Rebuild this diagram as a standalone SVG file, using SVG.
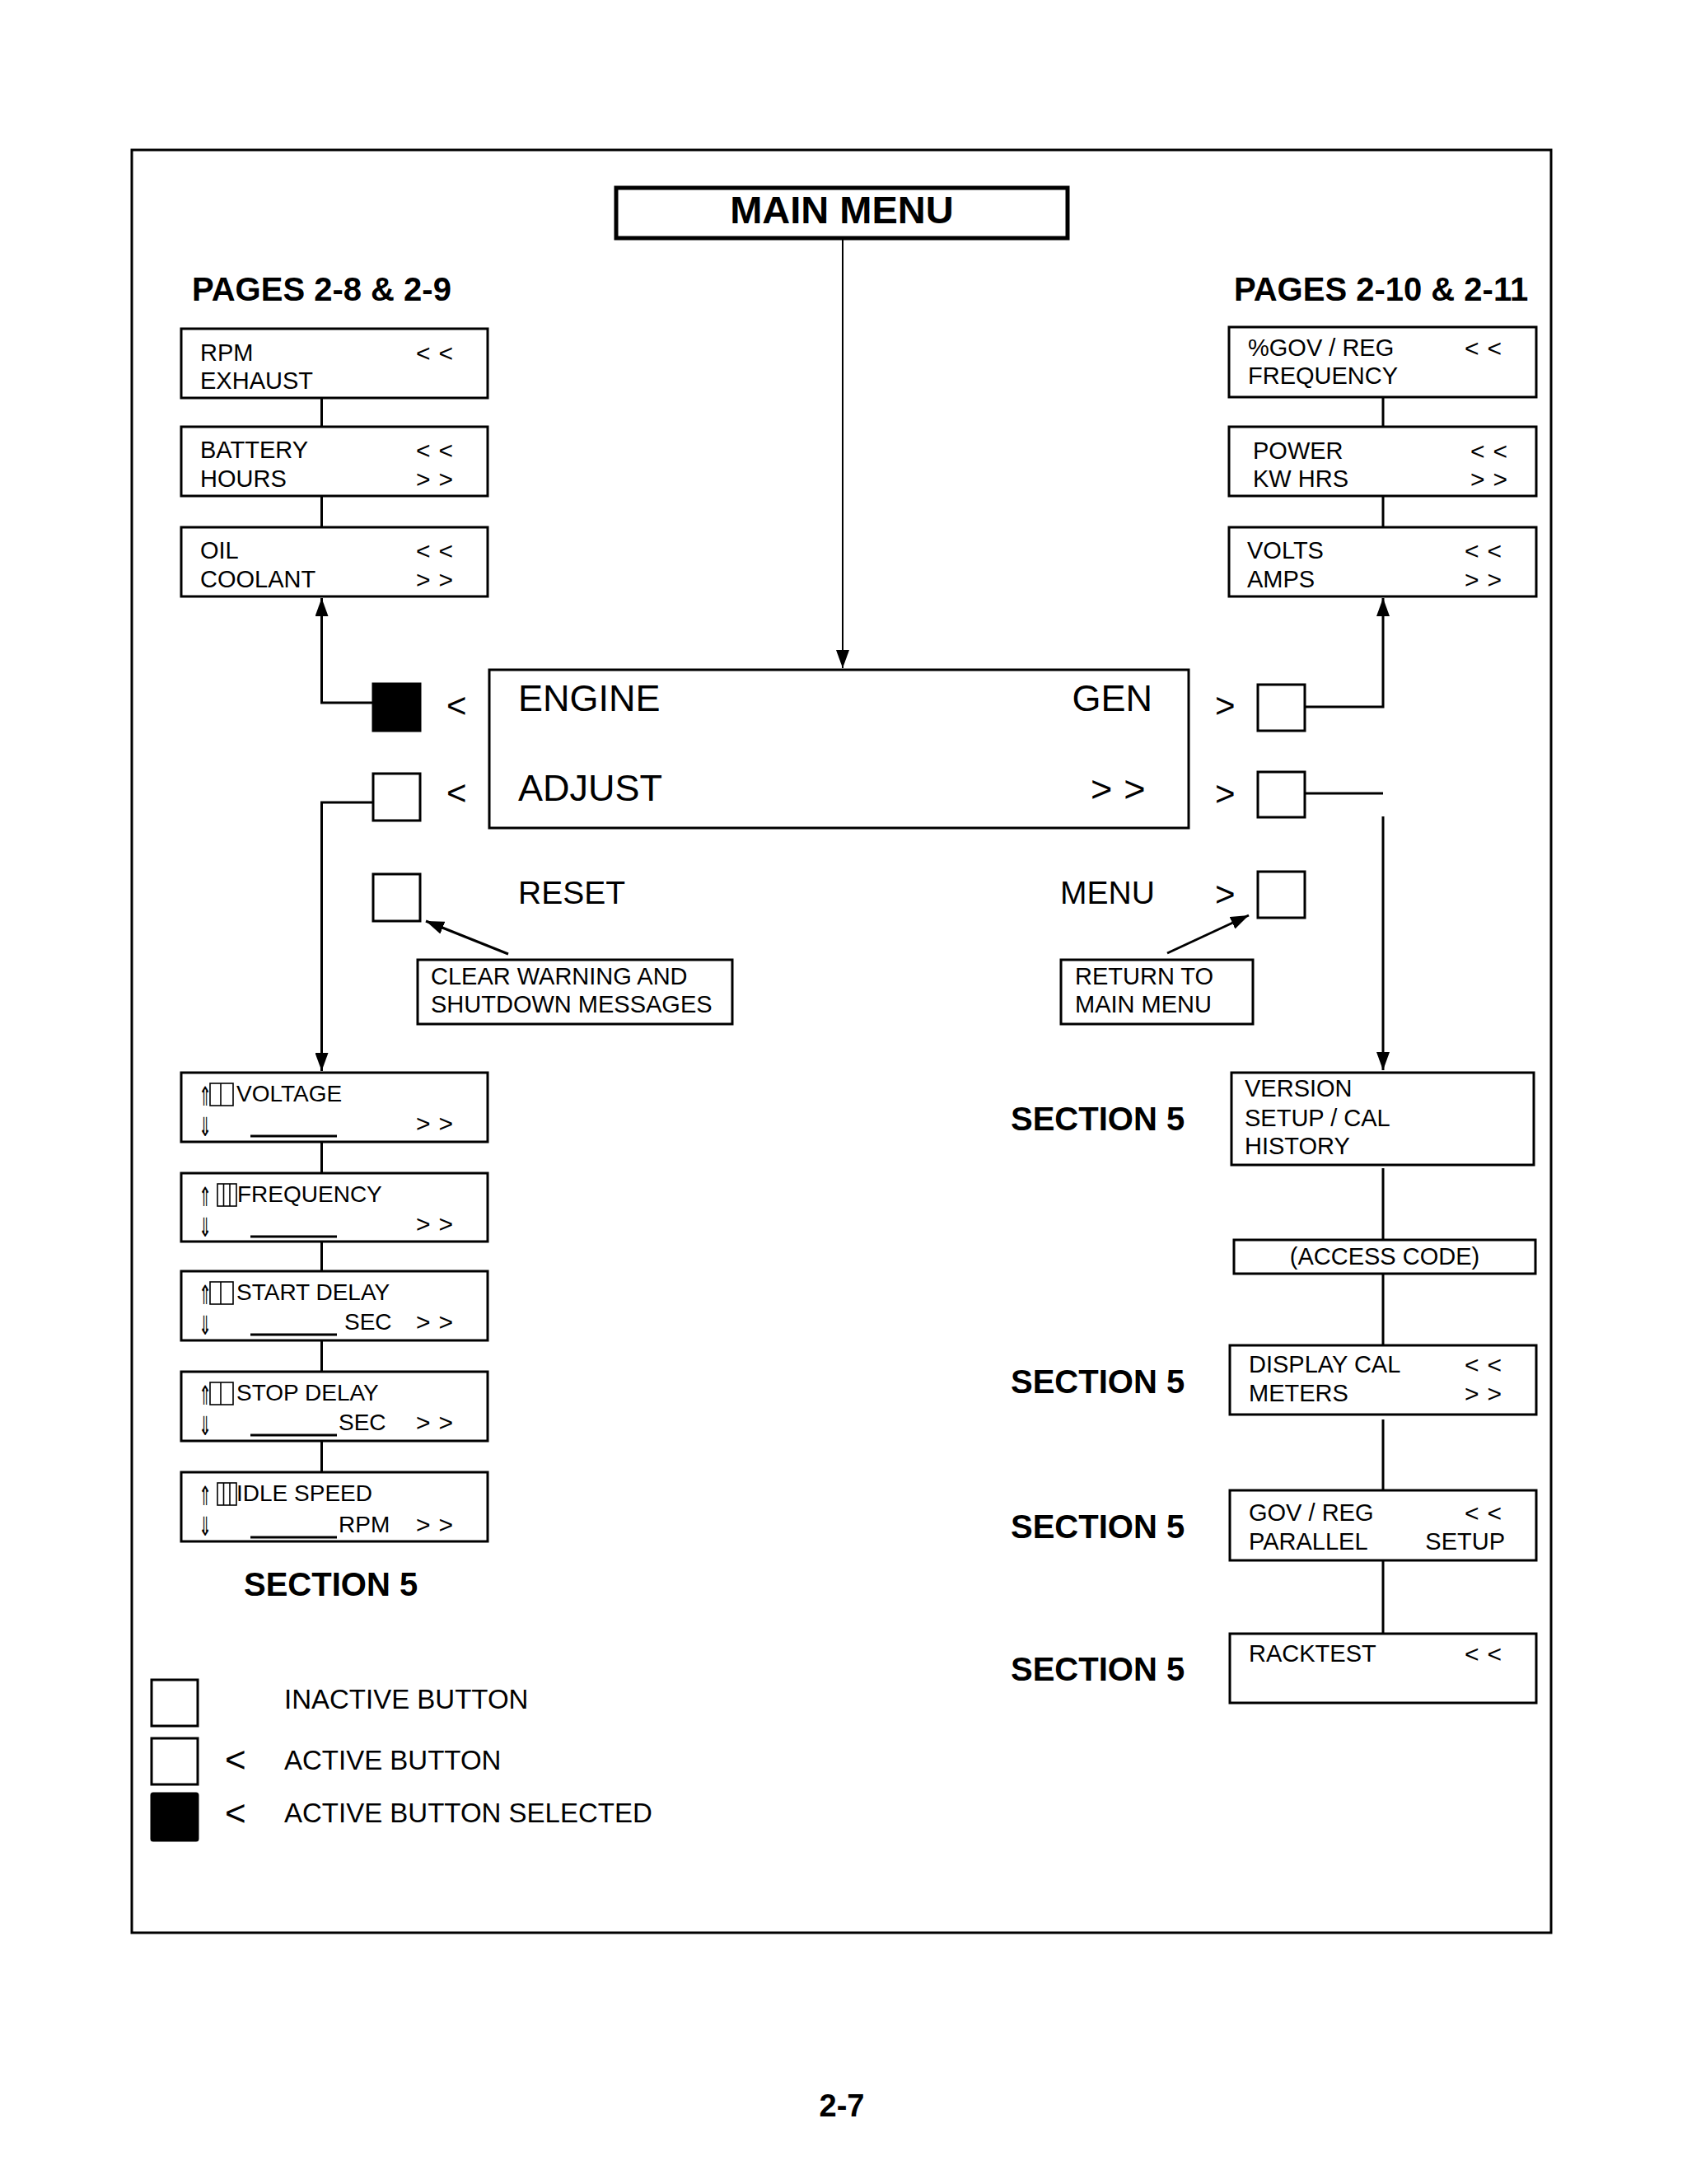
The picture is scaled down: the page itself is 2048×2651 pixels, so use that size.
<svg xmlns="http://www.w3.org/2000/svg" width="2048" height="2651" viewBox="0 0 2048 2651">
<style>
text{font-family:"Liberation Sans",Arial,sans-serif;fill:#000}
.b{font-weight:bold}
.t{font-size:29px}
.t2{font-size:28px}
.chev{font-size:30px;letter-spacing:10px}
.disp{font-size:45px}
.side{font-size:42px}
.box{fill:#fff;stroke:#000;stroke-width:3}
.btn{fill:#fff;stroke:#000;stroke-width:3}
.sel{fill:#000;stroke:#000;stroke-width:3}
.ln{fill:none;stroke:#000;stroke-width:3}
.thin{fill:none;stroke:#000;stroke-width:2}
text.arw{font-family:"DejaVu Sans",sans-serif;font-size:32px;fill:#000}
.tofu{fill:none;stroke:#000;stroke-width:1.6}
.sec{font-size:40px;font-weight:bold}
</style>
<defs>
<marker id="ah" markerUnits="userSpaceOnUse" markerWidth="24" markerHeight="16" refX="22" refY="8" orient="auto">
<path d="M0,0 L22,8 L0,16 z" fill="#000"/>
</marker>
</defs>
<rect x="0" y="0" width="2048" height="2651" fill="#fff"/>
<rect x="160" y="182" width="1723" height="2164" fill="none" stroke="#000" stroke-width="3"/>

<g id="connectors">
<path class="thin" d="M1023,291 V811" marker-end="url(#ah)"/>
<path class="ln" d="M453,853 H390.5 V726" marker-end="url(#ah)"/>
<path class="ln" d="M453,974 H390.5 V1300" marker-end="url(#ah)"/>
<path class="ln" d="M1584,858 H1679 V726" marker-end="url(#ah)"/>
<path class="ln" d="M1584,963 H1679"/>
<path class="ln" d="M1679,991 V1299" marker-end="url(#ah)"/>
<path class="ln" d="M390.5,483 V518 M390.5,602 V640"/>
<path class="ln" d="M1679,482 V518 M1679,602 V640"/>
<path class="ln" d="M390.5,1386 V1424 M390.5,1507 V1543 M390.5,1627 V1665 M390.5,1749 V1787"/>
<path class="ln" d="M1679,1418 V1504 M1679,1546 V1632 M1679,1723 V1809 M1679,1894 V1983"/>
<path class="ln" d="M617,1158 L517,1118" marker-end="url(#ah)"/>
<path class="ln" d="M1417,1157 L1516,1111" marker-end="url(#ah)"/>
</g>

<g id="main-menu">
<rect x="748" y="228" width="548" height="61" fill="#fff" stroke="#000" stroke-width="5"/>
<text class="b" x="1022" y="271" font-size="47" text-anchor="middle">MAIN MENU</text>
</g>

<g id="pages-left"><text class="b" x="233" y="365" font-size="40">PAGES 2-8 &amp; 2-9</text></g>
<g id="pages-right"><text class="b" x="1498" y="365" font-size="40">PAGES 2-10 &amp; 2-11</text></g>

<g id="rpm-exhaust">
<rect class="box" x="220" y="399" width="372" height="84"/>
<text class="t" x="243" y="438">RPM</text>
<text class="t" x="243" y="472">EXHAUST</text>
<text class="chev" x="505" y="439">&lt;&lt;</text>
</g>
<g id="battery-hours">
<rect class="box" x="220" y="518" width="372" height="84"/>
<text class="t" x="243" y="556">BATTERY</text>
<text class="t" x="243" y="591">HOURS</text>
<text class="chev" x="505" y="557">&lt;&lt;</text>
<text class="chev" x="505" y="592">&gt;&gt;</text>
</g>
<g id="oil-coolant">
<rect class="box" x="220" y="640" width="372" height="84"/>
<text class="t" x="243" y="678">OIL</text>
<text class="t" x="243" y="713">COOLANT</text>
<text class="chev" x="505" y="679">&lt;&lt;</text>
<text class="chev" x="505" y="714">&gt;&gt;</text>
</g>

<g id="gov-frequency">
<rect class="box" x="1492" y="397" width="373" height="85"/>
<text class="t" x="1515" y="432">%GOV / REG</text>
<text class="t" x="1515" y="466">FREQUENCY</text>
<text class="chev" x="1778" y="433">&lt;&lt;</text>
</g>
<g id="power-kwhrs">
<rect class="box" x="1492" y="518" width="373" height="84"/>
<text class="t" x="1521" y="557">POWER</text>
<text class="t" x="1521" y="591">KW HRS</text>
<text class="chev" x="1785" y="558">&lt;&lt;</text>
<text class="chev" x="1785" y="592">&gt;&gt;</text>
</g>
<g id="volts-amps">
<rect class="box" x="1492" y="640" width="373" height="84"/>
<text class="t" x="1514" y="678">VOLTS</text>
<text class="t" x="1514" y="713">AMPS</text>
<text class="chev" x="1778" y="679">&lt;&lt;</text>
<text class="chev" x="1778" y="714">&gt;&gt;</text>
</g>

<g id="display">
<rect class="box" x="594" y="813" width="849" height="192"/>
<text class="disp" x="629" y="863">ENGINE</text>
<text class="disp" x="1399" y="863" text-anchor="end">GEN</text>
<text class="disp" x="629" y="972">ADJUST</text>
<text class="disp" x="1324" y="973" letter-spacing="14">&gt;&gt;</text>
</g>

<g id="btn-engine">
<rect class="sel" x="453" y="830" width="57" height="57"/>
<text class="side" x="542" y="871">&lt;</text>
</g>
<g id="btn-adjust">
<rect class="btn" x="453" y="939" width="57" height="57"/>
<text class="side" x="542" y="977">&lt;</text>
</g>
<g id="btn-reset">
<rect class="btn" x="453" y="1061" width="57" height="57"/>
<text x="629" y="1097" font-size="39">RESET</text>
</g>
<g id="btn-gen">
<rect class="btn" x="1527" y="831" width="57" height="56"/>
<text class="side" x="1475" y="871">&gt;</text>
</g>
<g id="btn-adjust-right">
<rect class="btn" x="1527" y="937" width="57" height="55"/>
<text class="side" x="1475" y="978">&gt;</text>
</g>
<g id="btn-menu">
<rect class="btn" x="1527" y="1058" width="57" height="56"/>
<text x="1287" y="1097" font-size="39">MENU</text>
<text class="side" x="1475" y="1100">&gt;</text>
</g>

<g id="note-clear">
<rect class="box" x="507" y="1165" width="382" height="78"/>
<text class="t" x="523" y="1195">CLEAR WARNING AND</text>
<text class="t" x="523" y="1229">SHUTDOWN MESSAGES</text>
</g>
<g id="note-return">
<rect class="box" x="1288" y="1165" width="233" height="78"/>
<text class="t" x="1305" y="1195">RETURN TO</text>
<text class="t" x="1305" y="1229">MAIN MENU</text>
</g>

<g id="voltage">
<rect class="box" x="220" y="1302" width="372" height="84"/>
<text class="arw" transform="translate(241,1342) scale(0.6,1)">⇑</text>
<text class="arw" transform="translate(241,1379) scale(0.6,1)">⇓</text>
<rect class="tofu" x="255" y="1315" width="28" height="27"/><line class="tofu" x1="268" y1="1315" x2="268" y2="1342"/>
<text class="t2" x="287" y="1337">VOLTAGE</text>
<line class="ln" x1="304" y1="1379" x2="409" y2="1379"/>
<text class="chev" x="505" y="1374">&gt;&gt;</text>
</g>
<g id="frequency">
<rect class="box" x="220" y="1424" width="372" height="83"/>
<text class="arw" transform="translate(241,1464) scale(0.6,1)">⇑</text>
<text class="arw" transform="translate(241,1501) scale(0.6,1)">⇓</text>
<rect class="tofu" x="264" y="1437" width="23" height="27"/><line class="tofu" x1="271.5" y1="1437" x2="271.5" y2="1464"/><line class="tofu" x1="279" y1="1437" x2="279" y2="1464"/>
<text class="t2" x="288" y="1459">FREQUENCY</text>
<line class="ln" x1="304" y1="1501" x2="409" y2="1501"/>
<text class="chev" x="505" y="1496">&gt;&gt;</text>
</g>
<g id="start-delay">
<rect class="box" x="220" y="1543" width="372" height="84"/>
<text class="arw" transform="translate(241,1583) scale(0.6,1)">⇑</text>
<text class="arw" transform="translate(241,1620) scale(0.6,1)">⇓</text>
<rect class="tofu" x="255" y="1556" width="28" height="27"/><line class="tofu" x1="268" y1="1556" x2="268" y2="1583"/>
<text class="t2" x="287" y="1578">START DELAY</text>
<line class="ln" x1="304" y1="1620" x2="409" y2="1620"/>
<text class="t2" x="418" y="1614">SEC</text>
<text class="chev" x="505" y="1615">&gt;&gt;</text>
</g>
<g id="stop-delay">
<rect class="box" x="220" y="1665" width="372" height="84"/>
<text class="arw" transform="translate(241,1705) scale(0.6,1)">⇑</text>
<text class="arw" transform="translate(241,1742) scale(0.6,1)">⇓</text>
<rect class="tofu" x="255" y="1678" width="28" height="27"/><line class="tofu" x1="268" y1="1678" x2="268" y2="1705"/>
<text class="t2" x="287" y="1700">STOP DELAY</text>
<line class="ln" x1="304" y1="1742" x2="409" y2="1742"/>
<text class="t2" x="411" y="1736">SEC</text>
<text class="chev" x="505" y="1737">&gt;&gt;</text>
</g>
<g id="idle-speed">
<rect class="box" x="220" y="1787" width="372" height="84"/>
<text class="arw" transform="translate(241,1827) scale(0.6,1)">⇑</text>
<text class="arw" transform="translate(241,1864) scale(0.6,1)">⇓</text>
<rect class="tofu" x="264" y="1800" width="23" height="27"/><line class="tofu" x1="271.5" y1="1800" x2="271.5" y2="1827"/><line class="tofu" x1="279" y1="1800" x2="279" y2="1827"/>
<text class="t2" x="287" y="1822">IDLE SPEED</text>
<line class="ln" x1="304" y1="1866" x2="409" y2="1866"/>
<text class="t2" x="411" y="1860">RPM</text>
<text class="chev" x="505" y="1861">&gt;&gt;</text>
</g>
<g id="section-left"><text class="sec" x="296" y="1937">SECTION 5</text></g>

<g id="version">
<rect class="box" x="1495" y="1302" width="367" height="112"/>
<text class="t" x="1511" y="1331">VERSION</text>
<text class="t" x="1511" y="1367">SETUP / CAL</text>
<text class="t" x="1511" y="1401">HISTORY</text>
</g>
<g id="section-version"><text class="sec" x="1227" y="1372">SECTION 5</text></g>
<g id="access-code">
<rect class="box" x="1498" y="1505" width="366" height="41"/>
<text class="t" x="1681" y="1535" text-anchor="middle">(ACCESS CODE)</text>
</g>
<g id="display-cal">
<rect class="box" x="1493" y="1633" width="372" height="84"/>
<text class="t" x="1516" y="1666">DISPLAY CAL</text>
<text class="t" x="1516" y="1701">METERS</text>
<text class="chev" x="1778" y="1667">&lt;&lt;</text>
<text class="chev" x="1778" y="1702">&gt;&gt;</text>
</g>
<g id="section-display"><text class="sec" x="1227" y="1691">SECTION 5</text></g>
<g id="gov-reg">
<rect class="box" x="1493" y="1809" width="372" height="85"/>
<text class="t" x="1516" y="1846">GOV / REG</text>
<text class="t" x="1516" y="1881">PARALLEL</text>
<text class="chev" x="1778" y="1847">&lt;&lt;</text>
<text class="t" x="1827" y="1881" text-anchor="end">SETUP</text>
</g>
<g id="section-gov"><text class="sec" x="1227" y="1867">SECTION 5</text></g>
<g id="racktest">
<rect class="box" x="1493" y="1983" width="372" height="84"/>
<text class="t" x="1516" y="2017">RACKTEST</text>
<text class="chev" x="1778" y="2018">&lt;&lt;</text>
</g>
<g id="section-rack"><text class="sec" x="1227" y="2040">SECTION 5</text></g>

<g id="legend">
<rect class="btn" x="184" y="2039" width="56" height="56"/>
<text x="345" y="2074" font-size="33">INACTIVE BUTTON</text>
<rect class="btn" x="184" y="2110" width="56" height="56"/>
<text x="273" y="2151" font-size="44">&lt;</text>
<text x="345" y="2148" font-size="33">ACTIVE BUTTON</text>
<rect class="sel" x="184" y="2177" width="56" height="57" rx="2"/>
<text x="273" y="2216" font-size="44">&lt;</text>
<text x="345" y="2212" font-size="33">ACTIVE BUTTON SELECTED</text>
</g>

<g id="page-number"><text class="b" x="1022" y="2569" font-size="38" text-anchor="middle">2-7</text></g>
</svg>
